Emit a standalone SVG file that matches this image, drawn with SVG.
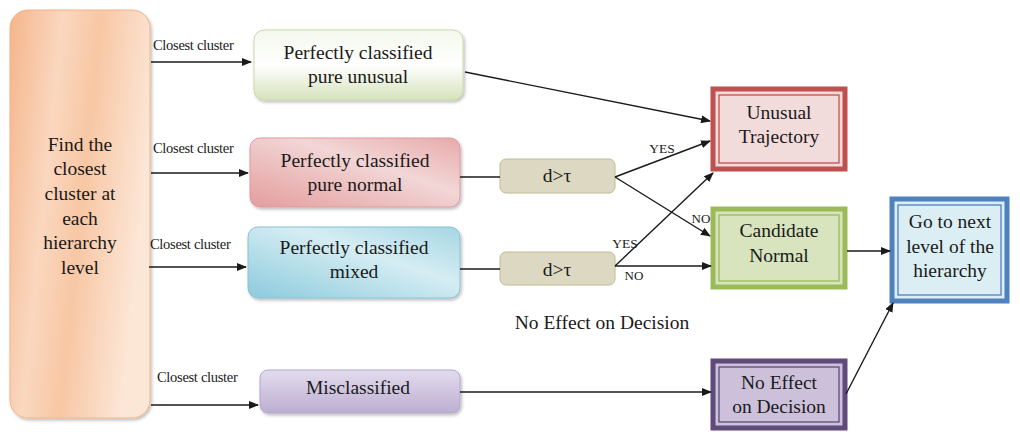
<svg xmlns="http://www.w3.org/2000/svg" width="1020" height="432" viewBox="0 0 1020 432" font-family="'Liberation Serif', 'Times New Roman', 'DejaVu Serif', serif">
<style>
text{font-family:'Liberation Serif','Times New Roman','DejaVu Serif',serif;fill:#1a1a1a;text-anchor:middle}
.t{font-size:19.5px}
.s{font-size:14.5px;text-anchor:start;letter-spacing:-0.3px}
.y{font-size:13.5px}
.n{font-size:13px}
.c{stroke:#1a1a1a;stroke-width:1.4;fill:none}
.a{marker-end:url(#ah)}
</style>
<defs>
<marker id="ah" markerWidth="10" markerHeight="8" refX="9" refY="4" orient="auto" markerUnits="userSpaceOnUse">
<path d="M0,0 L10,4 L0,8 z" fill="#1a1a1a"/>
</marker>
<filter id="sh" x="-10%" y="-10%" width="125%" height="125%">
<feDropShadow dx="1.5" dy="2" stdDeviation="1.5" flood-color="#000" flood-opacity="0.25"/>
</filter>
<linearGradient id="gOr" x1="0" y1="0" x2="1" y2="0.3">
<stop offset="0" stop-color="#f5b58a"/>
<stop offset="0.35" stop-color="#fad7bf"/>
<stop offset="0.6" stop-color="#f8c7a4"/>
<stop offset="1" stop-color="#fce6d6"/>
</linearGradient>
<linearGradient id="gGr" x1="0" y1="0" x2="0" y2="1">
<stop offset="0" stop-color="#f4f8ec"/>
<stop offset="0.5" stop-color="#ffffff"/>
<stop offset="1" stop-color="#d5e3bb"/>
</linearGradient>
<linearGradient id="gRd" x1="0" y1="1" x2="1" y2="0">
<stop offset="0" stop-color="#e49d9d"/>
<stop offset="0.6" stop-color="#f2d6d6"/>
<stop offset="1" stop-color="#e8aaaa"/>
</linearGradient>
<linearGradient id="gBl" x1="0" y1="1" x2="1" y2="0">
<stop offset="0" stop-color="#8ccbdc"/>
<stop offset="0.6" stop-color="#d5edf3"/>
<stop offset="1" stop-color="#a5d6e3"/>
</linearGradient>
<linearGradient id="gPu" x1="0" y1="0" x2="0" y2="1">
<stop offset="0" stop-color="#e3dced"/>
<stop offset="1" stop-color="#bcaed2"/>
</linearGradient>
</defs>

<g id="find-cluster">
<rect x="10" y="10" width="140" height="408" rx="18" fill="url(#gOr)" stroke="#f0b48a" stroke-width="1" filter="url(#sh)"/>
<text class="t"><tspan x="80" y="151">Find the</tspan><tspan x="80" y="175">closest</tspan><tspan x="80" y="200">cluster at</tspan><tspan x="80" y="225">each</tspan><tspan x="80" y="249">hierarchy</tspan><tspan x="80" y="274">level</tspan></text>
</g>

<g id="pure-unusual">
<rect x="254" y="30" width="209" height="70" rx="10" fill="url(#gGr)" stroke="#c9d9ab" stroke-width="1" filter="url(#sh)"/>
<text class="t"><tspan x="358" y="59">Perfectly classified</tspan><tspan x="358" y="83">pure unusual</tspan></text>
</g>

<g id="pure-normal">
<rect x="250" y="138" width="210" height="69" rx="10" fill="url(#gRd)" stroke="#dd9a9a" stroke-width="1" filter="url(#sh)"/>
<text class="t"><tspan x="355" y="167">Perfectly classified</tspan><tspan x="355" y="191">pure normal</tspan></text>
</g>

<g id="mixed">
<rect x="248" y="227" width="212" height="71" rx="10" fill="url(#gBl)" stroke="#86c2d4" stroke-width="1" filter="url(#sh)"/>
<text class="t"><tspan x="354" y="254">Perfectly classified</tspan><tspan x="354" y="278">mixed</tspan></text>
</g>

<g id="misclassified">
<rect x="260" y="370" width="200" height="43" rx="8" fill="url(#gPu)" stroke="#b5a6cc" stroke-width="1" filter="url(#sh)"/>
<text class="t" x="358" y="394">Misclassified</text>
</g>

<g id="d-tau-1">
<rect x="500" y="159" width="115" height="34" rx="6" fill="#ddd8c2" stroke="#c2ba95" stroke-width="1"/>
<text class="t" x="557" y="182">d&gt;τ</text>
</g>

<g id="d-tau-2">
<rect x="500" y="252" width="115" height="33" rx="6" fill="#ddd8c2" stroke="#c2ba95" stroke-width="1"/>
<text class="t" x="557" y="276">d&gt;τ</text>
</g>

<g id="unusual-trajectory">
<rect x="713" y="89" width="132" height="80" fill="#f2dcdb" stroke="#c0504d" stroke-width="5"/>
<rect x="719" y="95" width="120" height="68" fill="none" stroke="#c0504d" stroke-width="1.3"/>
<text class="t"><tspan x="779" y="119">Unusual</tspan><tspan x="779" y="143">Trajectory</tspan></text>
</g>

<g id="candidate-normal">
<rect x="713" y="209" width="132" height="78" fill="#d7e4bd" stroke="#9bbb59" stroke-width="5"/>
<rect x="719" y="215" width="120" height="66" fill="none" stroke="#9bbb59" stroke-width="1.3"/>
<text class="t"><tspan x="779" y="237">Candidate</tspan><tspan x="779" y="262">Normal</tspan></text>
</g>

<g id="go-next-level">
<rect x="892" y="199" width="115" height="102" fill="#dbeef4" stroke="#4f81bd" stroke-width="5"/>
<rect x="898" y="205" width="103" height="90" fill="none" stroke="#4f81bd" stroke-width="1.3"/>
<text class="t"><tspan x="950" y="228">Go to next</tspan><tspan x="950" y="253">level of the</tspan><tspan x="950" y="277">hierarchy</tspan></text>
</g>

<g id="no-effect">
<rect x="713" y="361" width="132" height="67" fill="#ccc0da" stroke="#604a7b" stroke-width="5"/>
<rect x="719" y="367" width="120" height="55" fill="none" stroke="#604a7b" stroke-width="1.3"/>
<text class="t"><tspan x="779" y="389">No Effect</tspan><tspan x="779" y="413">on Decision</tspan></text>
</g>

<g id="floating-label">
<text class="t" x="602" y="329">No Effect on Decision</text>
</g>

<g id="connectors">
<line class="c a" x1="151" y1="62" x2="251" y2="62"/>
<line class="c a" x1="151" y1="173" x2="248" y2="173"/>
<line class="c a" x1="149" y1="267" x2="246" y2="267"/>
<line class="c a" x1="151" y1="405" x2="258" y2="405"/>
<line class="c a" x1="465" y1="72" x2="710" y2="121"/>
<line class="c" x1="460" y1="177" x2="500" y2="177"/>
<line class="c" x1="460" y1="269" x2="500" y2="269"/>
<line class="c a" x1="615" y1="177" x2="710" y2="141"/>
<line class="c a" x1="615" y1="177" x2="710" y2="236"/>
<line class="c a" x1="615" y1="266" x2="713" y2="173"/>
<line class="c a" x1="615" y1="266" x2="711" y2="266"/>
<line class="c a" x1="847" y1="251" x2="890" y2="251"/>
<line class="c a" x1="460" y1="392" x2="711" y2="392"/>
<line class="c a" x1="846" y1="394" x2="893" y2="303"/>
</g>

<g id="labels">
<text class="s" x="153" y="50">Closest cluster</text>
<text class="s" x="153" y="153">Closest cluster</text>
<text class="s" x="150" y="249">Closest cluster</text>
<text class="s" x="157" y="382">Closest cluster</text>
<text class="y" x="662" y="153">YES</text>
<text class="n" x="701" y="223">NO</text>
<text class="y" x="625" y="248">YES</text>
<text class="n" x="634" y="280">NO</text>
</g>
</svg>
